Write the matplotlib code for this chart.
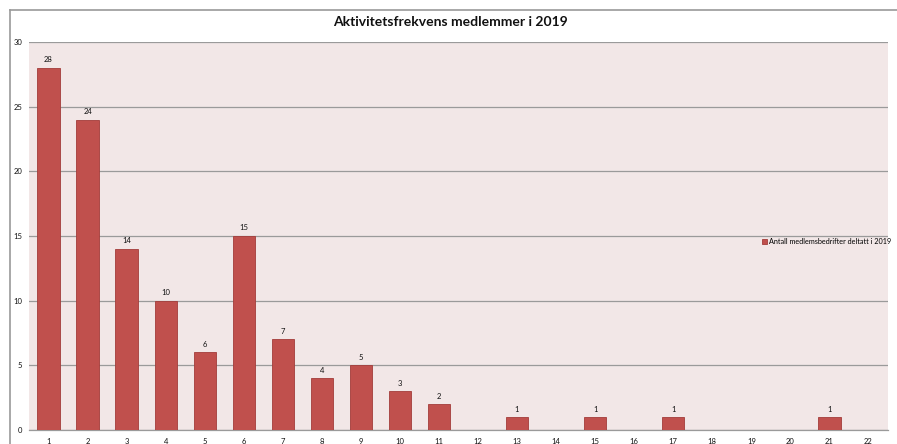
import matplotlib
matplotlib.use("Agg")
import matplotlib.pyplot as plt
from matplotlib.lines import Line2D

categories = [str(i) for i in range(1, 23)]
values = [28, 24, 14, 10, 6, 15, 7, 4, 5, 3, 2, 0, 1, 0, 1, 0, 1, 0, 0, 0, 1, 0]
series_name = "Antall medlemsbedrifter deltatt i 2019"
title = "Aktivitetsfrekvens medlemmer i 2019"
yticks = [0, 5, 10, 15, 20, 25, 30]

plt.rcParams['font.family'] = ['Lato', 'DejaVu Sans']

W, H = 897, 444
fig = plt.figure(figsize=(W / 100, H / 100), dpi=100)
fig.patch.set_facecolor("white")

# outer chart frame
fig.add_artist(Line2D([10 / W, 10 / W], [0, 1 - 10 / H], transform=fig.transFigure, color="#9a9a9a", lw=1.2))
fig.add_artist(Line2D([10 / W, 1], [1 - 10 / H, 1 - 10 / H], transform=fig.transFigure, color="#9a9a9a", lw=1.2))

ax = fig.add_axes([29 / W, 1 - 430 / H, (888 - 29) / W, (430 - 42) / H])
ax.set_facecolor("#F2E7E7")

x = list(range(1, 23))
ax.bar(x, values, width=0.57, color="#C0504D", edgecolor="#A33C3A", linewidth=0.6, zorder=3, label=series_name)

for xi, v in zip(x, values):
    if v > 0:
        ax.text(xi, v + 0.35, str(v), ha="center", va="bottom", fontsize=5.5, color="#111111", zorder=4)

ax.set_xlim(0.5, 22.5)
ax.set_ylim(0, 30)
ax.set_yticks(yticks)
ax.set_yticklabels([str(t) for t in yticks], fontsize=5.5, color="#111111")
ax.set_xticks(x)
ax.set_xticklabels(categories, fontsize=5.5, color="#111111")
ax.tick_params(axis="x", length=0, pad=6)
ax.tick_params(axis="y", length=0, pad=5)

ax.grid(axis="y", color="#9a9a9a", linewidth=0.9, zorder=1)
for s in ["left", "right", "top"]:
    ax.spines[s].set_visible(False)
ax.spines["bottom"].set_color("#9a9a9a")
ax.spines["bottom"].set_linewidth(0.9)

ax.legend(loc="center left", bbox_to_anchor=(0.853, 0.485), frameon=False, fontsize=5.2,
          handlelength=0.7, handleheight=0.7, handletextpad=0.3, borderpad=0, borderaxespad=0)

fig.text(450 / W, 1 - 22 / H, title, ha="center", va="center", fontsize=10, fontweight="bold", color="#111111")

fig.savefig("out.png", dpi=100, facecolor="white")
